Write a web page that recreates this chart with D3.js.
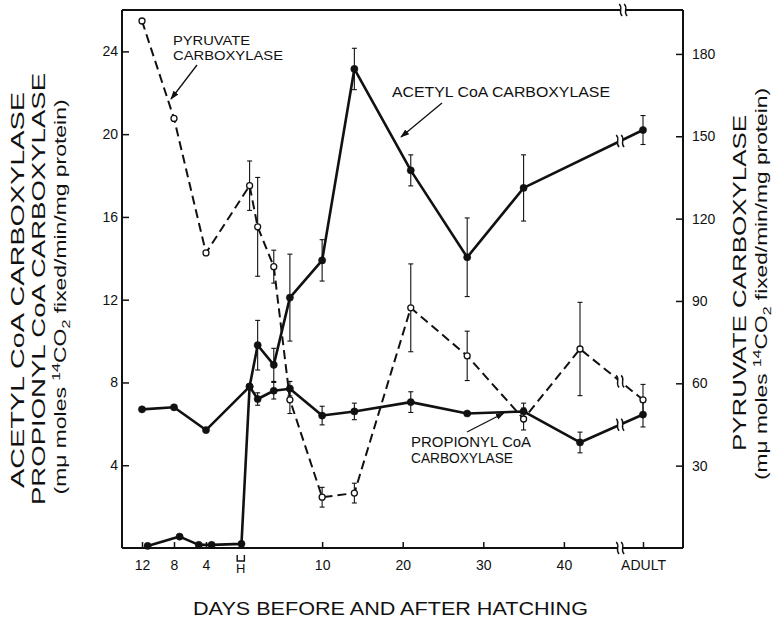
<!DOCTYPE html>
<html><head><meta charset="utf-8">
<script src="https://cdn.jsdelivr.net/npm/d3@7"></script>
<style>
body{margin:0;background:#fff;}
svg text{font-family:"Liberation Sans", Arial, sans-serif; fill:#111;}
</style></head><body>
<svg id="c" width="774" height="619"></svg>
<script>
// ---------- data (days: negative = before hatching, ADULT = adult) ----------
const ADULT = 50;
const BREAK_DAY = 47.1;

const acetylDays = [-11.3, -7.3, -4.9, -3.3, 0.3, 1, 2, 4, 6, 10, 14, 21, 28, 35, ADULT];
const acetylVals = [0.1, 0.55, 0.15, 0.15, 0.2, 7.8, 9.8, 8.85, 12.1, 13.9, 23.15, 18.25, 14.05, 17.4, 20.2];
const acetylErr  = [0, 0, 0, 0, 0, 0, 1.2, 0.8, 2.1, 1.0, 1.0, 0.75, 1.9, 1.6, 0.7];

const propDays = [-12, -8, -4, 1, 2, 4, 6, 10, 14, 21, 28, 35, 42, ADULT];
const propVals = [6.7, 6.8, 5.7, 7.8, 7.2, 7.6, 7.7, 6.4, 6.6, 7.05, 6.5, 6.6, 5.1, 6.45];
const propErr  = [0, 0, 0, 0, 0.3, 0.4, 0.35, 0.45, 0.4, 0.5, 0, 0.4, 0.5, 0.6];

const pyrDays = [-12, -8, -4, 1, 2, 4, 6, 10, 14, 21, 28, 35, 42, ADULT];
const pyrVals = [192, 156.5, 107.5, 132, 117, 102.5, 54, 18.5, 20, 87.5, 70, 47, 72.5, 54];
const pyrErr  = [0, 0, 0, 9, 18, 6, 5, 3.6, 3.6, 16, 9, 4, 17, 5.6];

const xTickDays   = [-12, -8, -4, 10, 20, 30, 40, ADULT];
const xTickLabels = ["12", "8", "4", "10", "20", "30", "40", "ADULT"];
const leftTicks  = [4, 8, 12, 16, 20, 24];
const rightTicks = [30, 60, 90, 120, 150, 180];

// ---------- scales ----------
const svg = d3.select("#c");
const X0 = 122, X1 = 683, Y0 = 10, Y1 = 548;
const x  = d3.scaleLinear().domain([-12, 0, 1, 42, ADULT]).range([142, 238, 249.6, 580, 643]);
const yL = d3.scaleLinear().domain([0, 26]).range([Y1, Y0]);
const yR = d3.scaleLinear().domain([0, 196]).range([Y1, Y0]);

// ---------- axes ----------
function styleAxis(g){
  g.select(".domain").remove();
  g.attr("font-family", null).attr("font-size", null);
  g.selectAll("line").attr("stroke", "#111").attr("stroke-width", 1.5);
  g.selectAll("text").attr("font-size", 14).style("fill", "#111");
}
svg.append("g").attr("transform", `translate(${X0},0)`)
  .call(d3.axisLeft(yL).tickValues(leftTicks).tickSizeInner(-7).tickSizeOuter(0).tickPadding(4))
  .call(styleAxis);
svg.append("g").attr("transform", `translate(${X1},0)`)
  .call(d3.axisRight(yR).tickValues(rightTicks).tickSizeInner(-7).tickSizeOuter(0).tickPadding(9))
  .call(styleAxis);
svg.append("g").attr("transform", `translate(0,${Y1})`)
  .call(d3.axisBottom(x).tickValues(xTickDays).tickFormat((d, i) => xTickLabels[i])
        .tickSizeInner(-6).tickSizeOuter(0).tickPadding(12))
  .call(styleAxis);

// frame
const frame = svg.append("g").attr("stroke", "#111").attr("stroke-width", 2).attr("fill", "none");
frame.append("line").attr("x1", X0).attr("y1", Y0).attr("x2", X0).attr("y2", Y1);
frame.append("line").attr("x1", X1).attr("y1", Y0).attr("x2", X1).attr("y2", Y1);
frame.append("line").attr("x1", X0).attr("y1", Y0).attr("x2", X1).attr("y2", Y0);
frame.append("line").attr("x1", X0).attr("y1", Y1).attr("x2", X1).attr("y2", Y1);

// hatching bracket and H
svg.append("path").attr("d", `M${x(-0.1)},${Y1 + 7} V${Y1 + 13} H${x(0.55)} V${Y1 + 7}`)
  .attr("fill", "none").attr("stroke", "#111").attr("stroke-width", 1.4);
svg.append("text").attr("x", (x(-0.1) + x(0.55)) / 2).attr("y", Y1 + 25)
  .attr("text-anchor", "middle").attr("font-size", 13).text("H");

// ---------- series ----------
function zip(days, vals, errs){ return days.map((d, i) => ({day: d, v: vals[i], e: errs[i]})); }
const acetyl = zip(acetylDays, acetylVals, acetylErr);
const prop   = zip(propDays, propVals, propErr);
const pyr    = zip(pyrDays, pyrVals, pyrErr);

function errorBars(data, y){
  const g = svg.append("g").attr("stroke", "#111").attr("stroke-width", 1.1);
  data.filter(d => d.e > 0).forEach(d => {
    const cx = x(d.day), ya = y(d.v + d.e), yb = y(d.v - d.e);
    g.append("line").attr("x1", cx).attr("x2", cx).attr("y1", ya).attr("y2", yb);
    g.append("line").attr("x1", cx - 2.5).attr("x2", cx + 2.5).attr("y1", ya).attr("y2", ya);
    g.append("line").attr("x1", cx - 2.5).attr("x2", cx + 2.5).attr("y1", yb).attr("y2", yb);
  });
}
errorBars(acetyl, yL); errorBars(prop, yL); errorBars(pyr, yR);

function drawLine(data, y, dash, w){
  svg.append("path").datum(data)
    .attr("d", d3.line().x(d => x(d.day)).y(d => y(d.v)))
    .attr("fill", "none").attr("stroke", "#111").attr("stroke-width", w)
    .attr("stroke-dasharray", dash).attr("stroke-linejoin", "round");
}
drawLine(pyr, yR, "9,5", 2);
drawLine(prop, yL, null, 2.6);
drawLine(acetyl, yL, null, 2.6);

function markers(data, y, open){
  svg.append("g").selectAll("circle").data(data).join("circle")
    .attr("cx", d => x(d.day)).attr("cy", d => y(d.v))
    .attr("r", open ? 3 : 3.6)
    .attr("fill", open ? "#fff" : "#111")
    .attr("stroke", "#111").attr("stroke-width", open ? 1.3 : 0.5);
}
markers(prop, yL, false);
markers(acetyl, yL, false);
markers(pyr, yR, true);

// ---------- break marks ----------
function breakMark(cx, cy, h){
  svg.append("rect").attr("x", cx - 2.5).attr("y", cy - h / 2 - 1).attr("width", 5).attr("height", h + 2).attr("fill", "#fff");
  [cx - 2.5, cx + 2.5].forEach(x0 => {
    svg.append("path")
      .attr("d", `M${x0 - 1.5},${cy - h / 2} C${x0 + 3},${cy - h / 6} ${x0 - 3},${cy + h / 6} ${x0 + 1.5},${cy + h / 2}`)
      .attr("fill", "none").attr("stroke", "#111").attr("stroke-width", 1.4);
  });
}
function yAtBreak(data, y){
  for (let i = 0; i < data.length - 1; i++){
    const a = data[i], b = data[i + 1];
    if (a.day <= BREAK_DAY && b.day >= BREAK_DAY){
      const xa = x(a.day), xb = x(b.day), t = (x(BREAK_DAY) - xa) / (xb - xa);
      return y(a.v) + t * (y(b.v) - y(a.v));
    }
  }
}
const bx = x(BREAK_DAY);
breakMark(bx, yAtBreak(acetyl, yL), 12);
breakMark(bx, yAtBreak(prop, yL), 12);
breakMark(bx, yAtBreak(pyr, yR), 12);
breakMark(bx, Y1, 12);
breakMark(bx + 3, Y0, 12);

// ---------- annotations ----------
svg.append("defs").append("marker").attr("id", "ah").attr("viewBox", "0 0 10 10")
  .attr("refX", 9).attr("refY", 5).attr("markerWidth", 9).attr("markerHeight", 9)
  .attr("markerUnits", "userSpaceOnUse").attr("orient", "auto")
  .append("path").attr("d", "M0,1.5 L10,5 L0,8.5 Z").attr("fill", "#111");
function arrow(x1, y1, x2, y2){
  svg.append("line").attr("x1", x1).attr("y1", y1).attr("x2", x2).attr("y2", y2)
    .attr("stroke", "#111").attr("stroke-width", 1.3).attr("marker-end", "url(#ah)");
}
function label(txt, lx, ly, len, size){
  const t = svg.append("text").attr("x", lx).attr("y", ly).attr("font-size", size || 15).text(txt);
  if (len) t.attr("textLength", len).attr("lengthAdjust", "spacingAndGlyphs");
}
label("PYRUVATE", 173, 45, 77, 13);
label("CARBOXYLASE", 173, 60, 110, 13);
arrow(197, 65, 171, 99);
label("ACETYL CoA CARBOXYLASE", 392, 97, 218, 15);
arrow(442, 103, 401, 137);
label("PROPIONYL CoA", 411, 447, 120, 14);
label("CARBOXYLASE", 411, 463, 102, 14);
arrow(467, 432, 504, 413);

// ---------- axis titles ----------
function unitLabel(cx, cy, len, size){
  const t = svg.append("text").attr("transform", `translate(${cx},${cy}) rotate(-90)`)
    .attr("text-anchor", "middle").attr("font-size", size)
    .attr("textLength", len).attr("lengthAdjust", "spacingAndGlyphs");
  t.append("tspan").text("(mμ moles ");
  t.append("tspan").attr("font-size", size * 0.7).attr("dy", -6).text("14");
  t.append("tspan").attr("dy", 6).text("CO");
  t.append("tspan").attr("font-size", size * 0.7).attr("dy", 4).text("2");
  t.append("tspan").attr("dy", -4).text(" fixed/min/mg protein)");
}
svg.append("text").attr("transform", "translate(24,290) rotate(-90)").attr("text-anchor", "middle")
  .attr("font-size", 18).attr("textLength", 396).attr("lengthAdjust", "spacingAndGlyphs")
  .text("ACETYL CoA CARBOXYLASE");
svg.append("text").attr("transform", "translate(45,289) rotate(-90)").attr("text-anchor", "middle")
  .attr("font-size", 18).attr("textLength", 432).attr("lengthAdjust", "spacingAndGlyphs")
  .text("PROPIONYL CoA CARBOXYLASE");
unitLabel(66, 297, 395, 16);
svg.append("text").attr("transform", "translate(746,283) rotate(-90)").attr("text-anchor", "middle")
  .attr("font-size", 18).attr("textLength", 336).attr("lengthAdjust", "spacingAndGlyphs")
  .text("PYRUVATE CARBOXYLASE");
unitLabel(767, 284, 392, 16);

svg.append("text").attr("x", 390.5).attr("y", 615).attr("text-anchor", "middle")
  .attr("font-size", 18).attr("textLength", 395).attr("lengthAdjust", "spacingAndGlyphs")
  .text("DAYS BEFORE AND AFTER HATCHING");
</script>
</body></html>
